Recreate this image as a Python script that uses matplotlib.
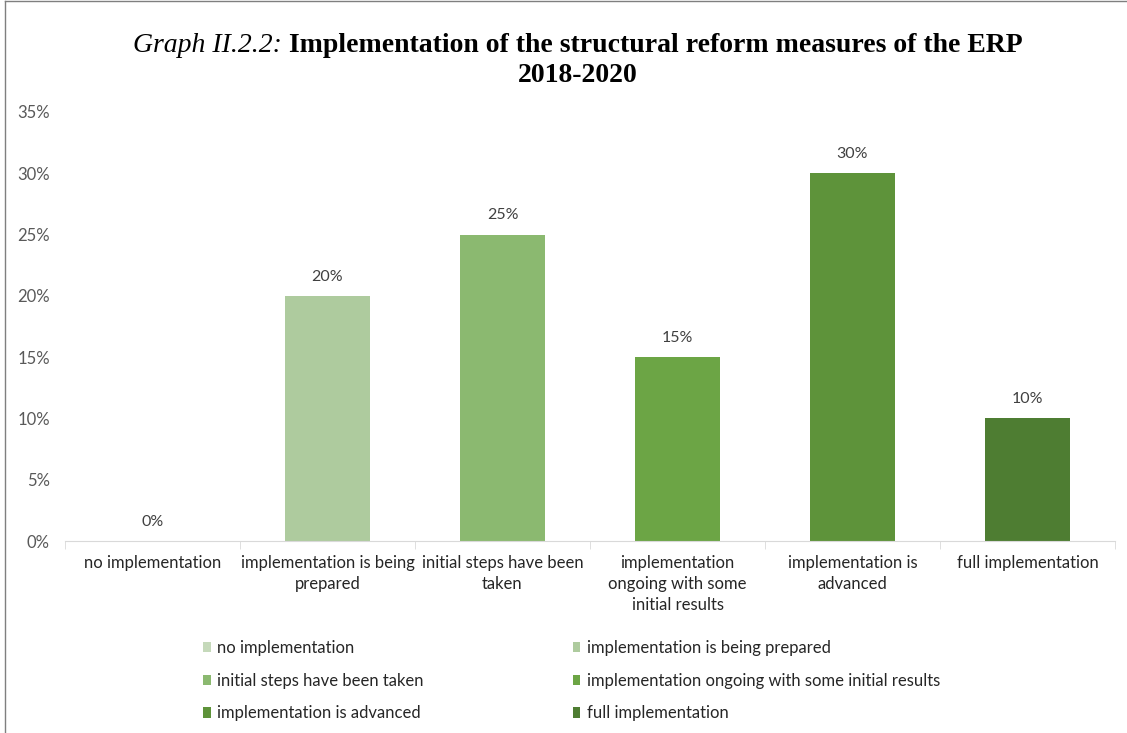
import matplotlib.pyplot as plt
import numpy as np
from matplotlib.lines import Line2D
from matplotlib.patches import Patch

categories = [
    "no implementation",
    "implementation is being prepared",
    "initial steps have been taken",
    "implementation ongoing with some initial results",
    "implementation is advanced",
    "full implementation",
]
tick_labels = [
    "no implementation",
    "implementation is being\nprepared",
    "initial steps have been\ntaken",
    "implementation\nongoing with some\ninitial results",
    "implementation is\nadvanced",
    "full implementation",
]
shares = [0.0, 0.20, 0.25, 0.15, 0.30, 0.10]
colors = ["#C5D9BA", "#AECB9E", "#8BB970", "#6CA545", "#5E933A", "#4E7D32"]

FONT = "Lato"
W, H = 1127, 733

fig = plt.figure(figsize=(W / 100, H / 100), dpi=100)
ax = fig.add_axes([65 / W, 1 - 541 / H, 1050 / W, 429 / H])

x = np.arange(len(categories))
ax.bar(x, shares, width=0.49, color=colors)
for xi, v in zip(x, shares):
    ax.text(xi, v + 0.01, f"{v:.0%}", ha="center", va="bottom",
            fontsize=11.5, color="#404040", family=FONT)

ax.set_xlim(-0.5, len(categories) - 0.5)
ax.set_ylim(0, 0.35)
yt = np.arange(0, 0.351, 0.05)
ax.set_yticks(yt)
ax.set_yticklabels([f"{t:.0%}" for t in yt], family=FONT, fontsize=12, color="#595959")
ax.tick_params(axis="y", length=0, pad=11)
ax.set_xticks(x)
ax.set_xticklabels(tick_labels, family=FONT, fontsize=12, color="#262626",
                   linespacing=1.38)
ax.tick_params(axis="x", length=0, pad=10)
ax.set_xticks(np.arange(-0.5, len(categories)), minor=True)
ax.tick_params(axis="x", which="minor", length=6, color="#D9D9D9", direction="out")
for s in ["top", "right", "left"]:
    ax.spines[s].set_visible(False)
ax.spines["bottom"].set_color("#D9D9D9")

# title: italic prefix + bold text, centred as one line
TSIZE = 20
ty = 1 - 46 / H
t1 = fig.text(0, ty, "Graph II.2.2: ", ha="left", va="center",
              family="Liberation Serif", style="italic", fontsize=TSIZE)
t2 = fig.text(0, ty, "Implementation of the structural reform measures of the ERP",
              ha="left", va="center", family="Liberation Serif", weight="bold", fontsize=TSIZE)
fig.canvas.draw()
r = fig.canvas.get_renderer()
w1 = t1.get_window_extent(r).width
w2 = t2.get_window_extent(r).width
x0 = (578 - (w1 + w2) / 2)
t1.set_x(x0 / W)
t2.set_x((x0 + w1) / W)
fig.text(578 / W, 1 - 76 / H, "2018-2020", ha="center", va="center",
         family="Liberation Serif", weight="bold", fontsize=TSIZE)

# legend filled row by row, like the reference
order = [0, 2, 4, 1, 3, 5]
handles = [Patch(facecolor=colors[i], edgecolor="none") for i in order]
fig.legend(handles, [categories[i] for i in order], ncol=2, loc="upper left",
           bbox_to_anchor=(188 / W, 1 - 625 / H), frameon=False,
           prop={"family": FONT, "size": 12}, labelcolor="#262626",
           handlelength=0.45, handleheight=0.6, handletextpad=0.4,
           columnspacing=8.95, labelspacing=1.0)

# outer frame
fig.add_artist(Line2D([5 / W, 5 / W], [0, 1 - 1 / H], color="#7F7F7F", lw=1))
fig.add_artist(Line2D([5 / W, 1], [1 - 1 / H, 1 - 1 / H], color="#7F7F7F", lw=1))

fig.savefig("out.png", dpi=100)
